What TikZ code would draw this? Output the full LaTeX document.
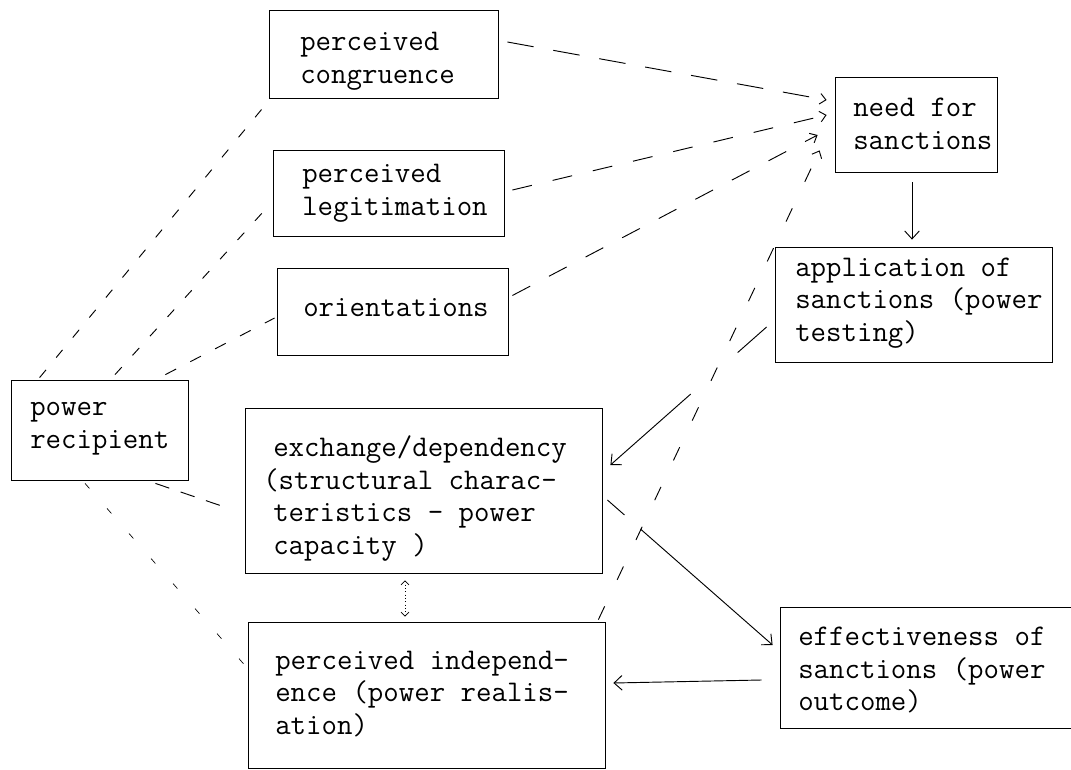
\documentclass[tikz,border=0pt]{standalone}
\usepackage{fontspec}
\usetikzlibrary{arrows.meta,calc}
\begin{document}
\begin{tikzpicture}[x=0.75pt,y=-0.75pt,
  box/.style 2 args={draw, line width=0.6pt, inner sep=0pt,
    minimum width=#1*0.75pt, minimum height=#2*0.75pt},
  lbl/.style={anchor=west, inner sep=0pt, align=left,
    font=\ttfamily\fontsize{22.5}{24.5}\selectfont},
  link/.style={line width=0.7pt},
  tip/.style={-{Straight Barb[length=6pt,width=11pt]}},
  smalltip/.style={-{Straight Barb[length=4.5pt,width=8pt]}},
  longdash/.style={dash pattern=on 20pt off 15pt},
  middash/.style={dash pattern=on 15pt off 16pt},
  sparsedash/.style={dash pattern=on 11pt off 22pt},
  shortdash/.style={dash pattern=on 7.5pt off 12pt},
  finedash/.style={line width=0.5pt, dash pattern=on 5pt off 20pt},
]
\clip (0,0) rectangle (1071,770);
\fill[white] (0,0) rectangle (1071,770);

% boxes
\node[box={229}{88}]  (cong)   at (383.5,54)  {};
\node[box={231}{86}]  (legit)  at (388.5,193) {};
\node[box={231}{87}]  (orient) at (392.5,311.5) {};
\node[box={177}{100}] (recip)  at (99.5,430)  {};
\node[box={162}{95}]  (need)   at (916,124.5) {};
\node[box={277}{115}] (appl)   at (913.5,304.5) {};
\node[box={357}{165}] (exch)   at (423.5,490.5) {};
\node[box={357}{146}] (indep)  at (426.5,695) {};
\node[box={300}{121}] (effect) at (930,667.5) {};

% labels
\node[lbl] (cong-t)   at (300,61.5) {perceived\\congruence};
\node[lbl] (legit-t)  at (302,193)  {perceived\\legitimation};
\node[lbl] (orient-t) at (303,308)  {orientations};
\node[lbl] (recip-t)  at (30,429)   {power\\recipient};
\node[lbl] (need-t)   at (853,124)  {need for\\sanctions};
\node[lbl] (appl-t)   at (795,303)  {application of\\sanctions (power\\testing)};
\node[lbl] (exch-t)   at (273,498.5)
  {exchange/dependency\\\hspace*{-7.5pt}(structural charac-\\teristics - power\\capacity )};
\node[lbl] (indep-t)  at (275,694)  {perceived independ-\\ence (power realis-\\ation)};
\node[lbl] (effect-t) at (798,670)  {effectiveness of\\sanctions (power\\outcome)};

% dashed influences on the need for sanctions
\draw[link,longdash,smalltip] ($(cong.east)+(9,-12)$) -- ($(need.west)+(-8,-24.5)$);
\draw[link,middash,smalltip]  ($(legit.east)+(8,-3)$) -- ($(need.west)+(-8,-9.5)$);
\draw[link,middash,smalltip]  ($(orient.east)+(4,-16)$) -- ($(need.west)+(-17,10.5)$);
\draw[link,sparsedash,smalltip] ($(indep.north east)+(-7,-2)$) -- ($(need.south west)+(-15,-22)$);

% solid chain
\draw[link,tip] ($(need.south)+(-4,10)$) -- ($(appl.north)+(-1.5,-7)$);
\draw[link,tip,dash pattern=on 29pt off 47pt on 300pt]
  ($(appl.west)+(-8,22.5)$) -- ($(exch.east)+(8,-25.5)$);
\draw[link,tip,dash pattern=on 17pt off 16pt on 400pt]
  ($(exch.east)+(5,9.5)$) -- ($(effect.west)+(-7,-22.5)$);
\draw[link,tip] ($(effect.west)+(-18,12.5)$) -- ($(indep.east)+(8,-12)$);
\draw[line width=0.5pt,dotted,
  {Straight Barb[length=3pt,width=6pt]}-{Straight Barb[length=3pt,width=6pt]}]
  ($(exch.south)+(-18.5,7)$) -- ($(indep.north)+(-21.5,-5)$);

% links from the power recipient
\draw[link,shortdash] ($(recip.north west)+(29,-2)$) -- ($(cong.south west)+(-2,5)$);
\draw[link,shortdash] ($(recip.north)+(15.5,-5)$) -- ($(legit.west)+(-5,14)$);
\draw[link,dash pattern=on 9pt off 12pt] ($(recip.north east)+(-23,-5)$) -- ($(orient.west)+(-2,6.5)$);
\draw[link,dash pattern=on 11pt off 9pt] ($(recip.south east)+(-33,3)$) -- ($(exch.west)+(-17,17.5)$);
\draw[finedash] ($(recip.south)+(-14.5,3)$) -- ($(indep.west)+(-3,-30)$);
\end{tikzpicture}
\end{document}
